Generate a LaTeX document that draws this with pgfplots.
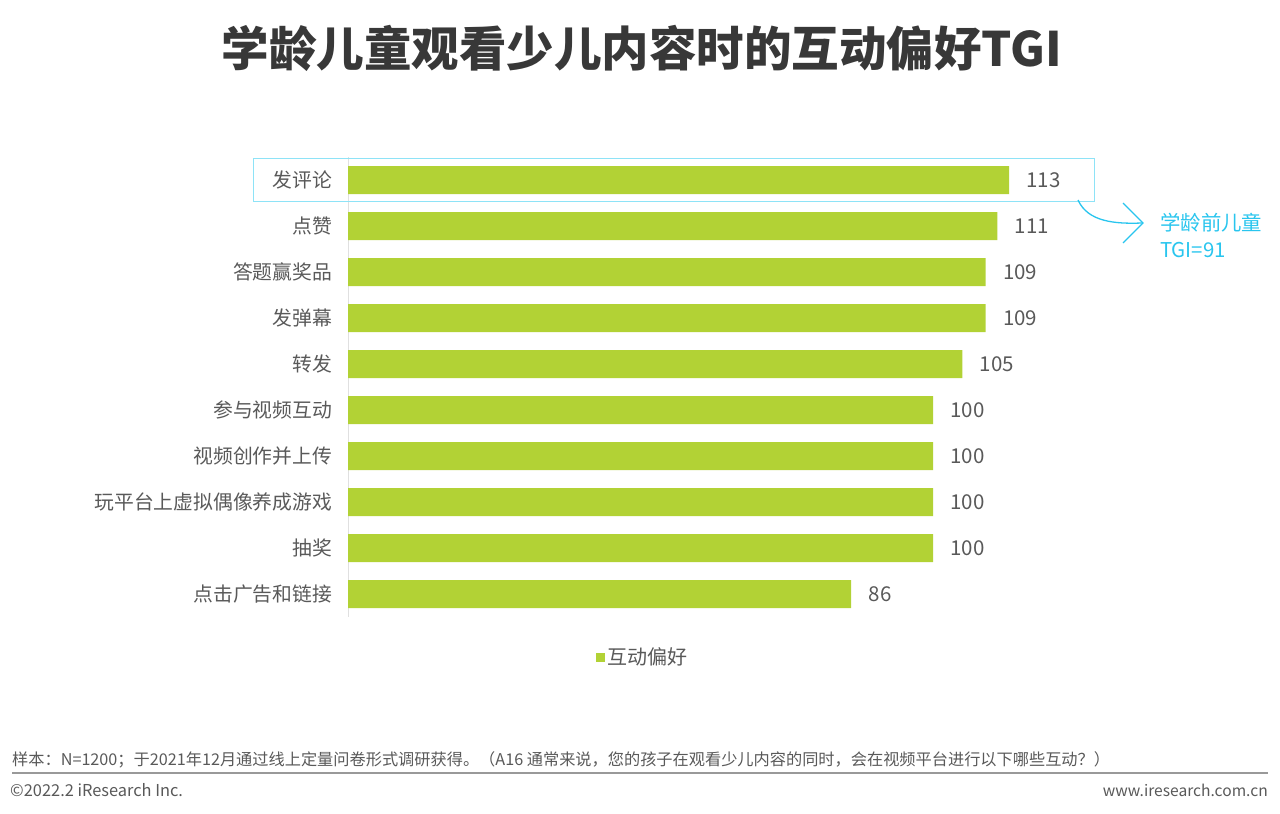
\documentclass[border=0pt]{standalone}
\usepackage{fontspec}
\setmainfont{Noto Sans CJK SC}
\usepackage{pgfplots}
\pgfplotsset{compat=1.18}
\definecolor{bargreen}{HTML}{B2D235}
\definecolor{txtgray}{HTML}{595959}
\definecolor{hlcyan}{HTML}{29C5EE}
\definecolor{boxcyan}{HTML}{8EE3F7}
\newcommand{\fs}[1]{\fontsize{#1}{#1}\selectfont}

\begin{document}
\begin{tikzpicture}[x=1pt,y=1pt]
  \path[use as bounding box] (0,0) rectangle (1280,-814);
  % title
  \node[font=\fs{47.5}\bfseries, text=black!78] at (642,-48) {学龄儿童观看少儿内容时的互动偏好TGI};

  \begin{axis}[
    at={(348pt,-617pt)}, anchor=south west,
    scale only axis, width=702pt, height=460pt,
    xbar, bar width=28pt,
    xmin=0, xmax=120, ymin=-0.5, ymax=9.5, y dir=reverse,
    axis x line=none, axis y line*=left,
    axis line style={draw=black!12, line width=1pt, -},
    ytick={0,...,9},
    yticklabels={发评论,点赞,答题赢奖品,发弹幕,转发,参与视频互动,视频创作并上传,玩平台上虚拟偶像养成游戏,抽奖,点击广告和链接},
    ytick style={draw=none},
    yticklabel style={font=\fs{19.8}, text=txtgray, xshift=-8pt},
    nodes near coords,
    /pgf/number format/assume math mode=true,
    every node near coord/.append style={font=\fs{20.5}, text=txtgray, xshift=14pt},
    legend style={at={(0.42,-0.087)}, anchor=center, draw=none, font=\fs{20}, text=txtgray,
      legend cell align=left},
    legend image code/.code={\fill[bargreen] (-1pt,-4.5pt) rectangle (8pt,4.5pt);},
  ]
    \addplot[fill=bargreen, draw=none] coordinates {
      (113,0) (111,1) (109,2) (109,3) (105,4)
      (100,5) (100,6) (100,7) (100,8) (86,9)
    };
    \addlegendentry{互动偏好}
  \end{axis}

  % highlight annotation
  \draw[boxcyan, line width=1pt] (253,-158) rectangle (1094,-201);
  \draw[hlcyan, line width=1.3pt] (1078,-200) .. controls (1088,-222) and (1115,-224) .. (1142,-223);
  \draw[hlcyan, line width=1.3pt] (1123,-203) -- (1143,-223) -- (1123,-243);
  \node[anchor=west, text=hlcyan, font=\fs{20.4}, inner sep=0pt] at (1160,-223) {学龄前儿童};
  \node[anchor=west, text=hlcyan, font=\fs{20.4}, inner sep=0pt] at (1160,-250) {TGI=91};

  % footer
  \node[anchor=west, text=txtgray, font=\fs{16.2}, inner sep=0pt] at (12,-760)
    {样本：N=1200；于2021年12月通过线上定量问卷形式调研获得。（A16 通常来说，您的孩子在观看少儿内容的同时，会在视频平台进行以下哪些互动？）};
  \draw[black!40, line width=1.5pt] (12,-773) -- (1268,-773);
  \node[anchor=west, text=txtgray, font=\fs{16.4}, inner sep=0pt] at (10,-790) {©2022.2 iResearch Inc.};
  \node[anchor=east, text=txtgray, font=\fs{15.6}, inner sep=0pt] at (1268,-790) {www.iresearch.com.cn};
\end{tikzpicture}
\end{document}
